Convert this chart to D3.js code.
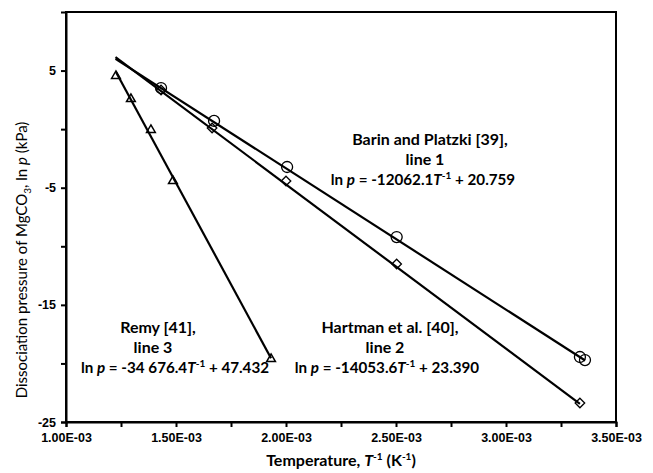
<!DOCTYPE html>
<html>
<head>
<meta charset="utf-8">
<script src="https://cdn.jsdelivr.net/npm/d3@7"></script>
<style>
  body { margin: 0; background: #fff; }
</style>
</head>
<body>
<div id="chart"></div>
<script>
// Barin and Platzki [39], line 1 (circles)
const barinX = [1.432e-3, 1.673e-3, 2.005e-3, 2.503e-3, 3.336e-3, 3.359e-3];
const barinY = [3.51, 0.70, -3.23, -9.21, -19.45, -19.71];
// Hartman et al. [40], line 2 (diamonds)
const hartmanX = [1.432e-3, 1.664e-3, 2.0e-3, 2.503e-3, 3.336e-3];
const hartmanY = [3.34, 0.10, -4.43, -11.51, -23.38];
// Remy [41], line 3 (triangles)
const remyX = [1.227e-3, 1.295e-3, 1.386e-3, 1.486e-3, 1.932e-3];
const remyY = [4.54, 2.57, -0.07, -4.43, -19.62];

// trend line end points
const line1X = [1.225e-3, 3.36e-3], line1Y = [6.0, -19.75];
const line2X = [1.225e-3, 3.336e-3], line2Y = [6.15, -23.45];
const line3X = [1.227e-3, 1.932e-3], line3Y = [4.88, -19.56];

const xTicks = [1.0e-3, 1.25e-3, 1.5e-3, 1.75e-3, 2.0e-3, 2.25e-3, 2.5e-3, 2.75e-3, 3.0e-3, 3.25e-3, 3.5e-3];
const xTickLabels = ["1.00E-03", "", "1.50E-03", "", "2.00E-03", "", "2.50E-03", "", "3.00E-03", "", "3.50E-03"];
const yTicks = [-25, -20, -15, -10, -5, 0, 5];
const yTickLabels = ["-25", "", "-15", "", "-5", "", "5"];

const width = 653, height = 473;
const margin = { top: 12, right: 37, bottom: 51, left: 66 };

const svg = d3.select("#chart").append("svg")
    .attr("width", width)
    .attr("height", height)
    .style("font-family", "Lato, 'Open Sans', sans-serif");

const chartWidth = width - margin.left - margin.right;
const chartHeight = height - margin.top - margin.bottom;

const xScale = d3.scaleLinear().domain([1.0e-3, 3.5e-3]).range([0, chartWidth]);
const yScale = d3.scaleLinear().domain([-25, 10]).range([chartHeight, 0]);

const g = svg.append("g").attr("transform", `translate(${margin.left},${margin.top})`);

// frame
g.append("rect")
    .attr("width", chartWidth)
    .attr("height", chartHeight)
    .attr("fill", "none")
    .attr("stroke", "#000")
    .attr("stroke-width", 2);

// axes
const xAxis = d3.axisBottom(xScale)
    .tickValues(xTicks)
    .tickFormat((d, i) => xTickLabels[i])
    .tickSizeOuter(0)
    .tickSize(5)
    .tickPadding(6);
const yAxis = d3.axisLeft(yScale)
    .tickValues(yTicks)
    .tickFormat((d, i) => yTickLabels[i])
    .tickSizeOuter(0)
    .tickSize(5)
    .tickPadding(5);

const gx = g.append("g").attr("transform", `translate(0,${chartHeight})`).call(xAxis);
const gy = g.append("g").call(yAxis);
[gx, gy].forEach(a => {
    a.select(".domain").attr("stroke", "#000").attr("stroke-width", 2);
    a.selectAll(".tick line").attr("stroke", "#000").attr("stroke-width", 2);
    a.selectAll(".tick text")
        .attr("fill", "#000")
        .attr("font-size", "12.5px")
        .attr("font-weight", "bold");
});

// trend lines
const line = d3.line().x(d => xScale(d[0])).y(d => yScale(d[1]));
[[line1X, line1Y], [line2X, line2Y], [line3X, line3Y]].forEach(([xs, ys]) => {
    g.append("path")
        .datum(xs.map((x, i) => [x, ys[i]]))
        .attr("fill", "none")
        .attr("stroke", "#000")
        .attr("stroke-width", 2.2)
        .attr("d", line);
});

// markers
g.selectAll(".circle")
    .data(barinX.map((x, i) => [x, barinY[i]]))
    .enter().append("circle")
    .attr("cx", d => xScale(d[0]))
    .attr("cy", d => yScale(d[1]))
    .attr("r", 5.5)
    .attr("fill", "none")
    .attr("stroke", "#000")
    .attr("stroke-width", 1.3);

const diamond = d3.symbol().type(d3.symbolDiamond2).size(58);
g.selectAll(".diamond")
    .data(hartmanX.map((x, i) => [x, hartmanY[i]]))
    .enter().append("path")
    .attr("transform", d => `translate(${xScale(d[0])},${yScale(d[1])})`)
    .attr("d", diamond)
    .attr("fill", "none")
    .attr("stroke", "#000")
    .attr("stroke-width", 1.3);

const triangle = d3.symbol().type(d3.symbolTriangle2).size(55);
g.selectAll(".triangle")
    .data(remyX.map((x, i) => [x, remyY[i]]))
    .enter().append("path")
    .attr("transform", d => `translate(${xScale(d[0])},${yScale(d[1])})`)
    .attr("d", triangle)
    .attr("fill", "none")
    .attr("stroke", "#000")
    .attr("stroke-width", 1.5);

// annotations
function equation(sel, coef, intercept) {
    sel.append("tspan").text("ln ");
    sel.append("tspan").attr("font-style", "italic").text("p");
    sel.append("tspan").text(` = ${coef}`);
    sel.append("tspan").attr("font-style", "italic").text("T");
    sel.append("tspan").attr("font-size", "10px").attr("dy", -5).text("-1");
    sel.append("tspan").attr("dy", 5).text(` + ${intercept}`);
}

const labels = [
    { x: 430, y: 141, lines: ["Barin and Platzki [39],", "line 1"], coef: "-12062.1", icpt: "20.759", ex: 423 },
    { x: 390, y: 329, lines: ["Hartman et al. [40],", "line 2"], coef: "-14053.6", icpt: "23.390", ex: 387 },
    { x: 158, y: 329, lines: ["Remy [41],", "line 3"], coef: "-34 676.4", icpt: "47.432", ex: 175 }
];
labels.forEach(l => {
    l.lines.forEach((t, i) => {
        svg.append("text")
            .attr("x", l.x - (i === 1 ? 5 : 0))
            .attr("y", l.y + i * 19.5)
            .attr("text-anchor", "middle")
            .attr("dominant-baseline", "middle")
            .attr("font-size", "16px")
            .attr("font-weight", "bold")
            .text(t);
    });
    const eq = svg.append("text")
        .attr("x", l.ex)
        .attr("y", l.y + 39.5)
        .attr("text-anchor", "middle")
        .attr("dominant-baseline", "middle")
        .attr("font-size", "15.2px")
        .attr("font-weight", "bold");
    equation(eq, l.coef, l.icpt);
});

// axis titles
const xt = svg.append("text")
    .attr("x", margin.left + chartWidth / 2)
    .attr("y", 466)
    .attr("text-anchor", "middle")
    .attr("font-size", "16px")
    .attr("font-weight", "bold");
xt.append("tspan").text("Temperature, ");
xt.append("tspan").attr("font-style", "italic").text("T");
xt.append("tspan").attr("font-size", "10px").attr("dy", -6).text("-1");
xt.append("tspan").attr("dy", 6).text(" (K");
xt.append("tspan").attr("font-size", "10px").attr("dy", -6).text("-1");
xt.append("tspan").attr("dy", 6).text(")");

const yt = svg.append("text")
    .attr("transform", `translate(27,${margin.top + chartHeight / 2 + 43}) rotate(-90)`)
    .attr("text-anchor", "middle")
    .attr("font-size", "15px");
yt.append("tspan").text("Dissociation pressure of MgCO");
yt.append("tspan").attr("font-size", "10px").attr("dy", 4).text("3");
yt.append("tspan").attr("dy", -4).text(", ln ");
yt.append("tspan").attr("font-style", "italic").text("p");
yt.append("tspan").text(" (kPa)");
</script>
</body>
</html>
